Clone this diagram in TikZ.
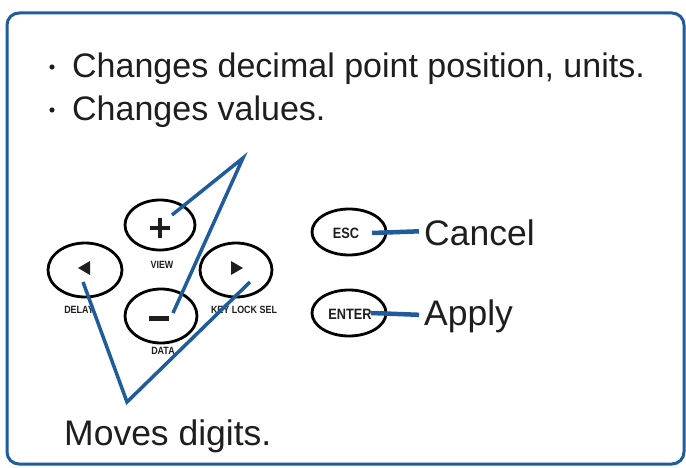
\documentclass[tikz,border=0pt]{standalone}
\usepackage{fontspec}
\setmainfont{Liberation Sans}
\usetikzlibrary{shapes.geometric,calc}
\definecolor{frameblue}{RGB}{32,92,156}
\definecolor{txt}{RGB}{30,30,30}
\tikzset{
  x=1pt,y=-1pt,
  btn/.style={draw=black,line width=2.8pt,ellipse,inner sep=0pt},
  lbl/.style={font=\fontsize{10.5}{10.5}\selectfont\bfseries,text=txt,inner sep=0pt,xscale=0.85},
  keylbl/.style={font=\fontsize{15}{15}\selectfont\bfseries,text=txt,inner sep=0pt,xscale=0.85},
  big/.style={font=\fontsize{34}{34}\selectfont,text=txt,inner sep=0pt,anchor=base west},
  bigger/.style={font=\fontsize{35.5}{35.5}\selectfont,text=txt,inner sep=0pt,anchor=base west},
  conn/.style={draw=frameblue,line width=4.5pt},
}
\begin{document}
\begin{tikzpicture}
\useasboundingbox (0,0) rectangle (686,468);
\fill[white] (0,0) rectangle (686,468);
% frame
\draw[frameblue,line width=3pt,rounded corners=12pt] (7,13) rectangle (684,464);
% bullets
\node[big] (t1) at (72,78) {Changes decimal point position, units.};
\node[big] (t2) at (72,121) {Changes values.};
\fill[txt] (52,67) circle (2.6);
\fill[txt] (52,110) circle (2.6);
% buttons
\node[btn,minimum width=70pt,minimum height=50pt] (plus) at (160,225) {};
\node[btn,minimum width=74pt,minimum height=54pt] (left) at (85,270) {};
\node[btn,minimum width=72pt,minimum height=54pt] (minus) at (161,316) {};
\node[btn,minimum width=72pt,minimum height=54pt] (right) at (236,270) {};
\draw[line width=4.5pt,txt] ($(plus)+(-10,3)$) -- ($(plus)+(10,3)$);
\draw[line width=4.5pt,txt] ($(plus)+(0,-7)$) -- ($(plus)+(0,13)$);
\draw[line width=5pt,txt] ($(minus)+(-12,2)$) -- ($(minus)+(8,2)$);
\fill[txt] ($(left)+(-7,-2)$) -- ($(left)+(5,-9)$) -- ($(left)+(5,5)$) -- cycle;
\fill[txt] ($(right)+(7,-2)$) -- ($(right)+(-5,-9)$) -- ($(right)+(-5,5)$) -- cycle;
\node[lbl] (view) at (162,265) {VIEW};
\node[lbl] (delay) at (79,310) {DELAY};
\node[lbl] (data) at (163,351) {DATA};
\node[lbl] (keylock) at (244,310) {KEY LOCK SEL};
% ESC / ENTER
\node[btn,minimum width=74pt,minimum height=46pt] (esc) at (349,232) {};
\node[btn,minimum width=74pt,minimum height=46pt] (enter) at (349,313) {};
\node[keylbl] (esct) at (346,233) {ESC};
\node[keylbl] (entert) at (350,314) {ENTER};
\node[bigger] (cancel) at (424,245) {Cancel};
\node[bigger] (apply) at (424,325) {Apply};
\draw[conn] ($(esc)+(23,1)$) -- ($(cancel.west)+(-5,-1)$);
\draw[conn] ($(enter)+(22,0)$) -- ($(apply.west)+(-5,-1)$);
% V connectors
\coordinate (vtop) at (243,158);
\coordinate (vbot) at (127,402);
\draw[conn,line width=3.5pt,line join=miter] ($(plus)+(12,-10)$) -- (vtop) -- ($(minus)+(12,-3)$);
\draw[conn,line width=3.5pt,line join=miter] ($(left)+(-2,12)$) -- (vbot) -- ($(right)+(14,12)$);
\node[bigger] (moves) at (64,445) {Moves digits.};
\end{tikzpicture}
\end{document}
